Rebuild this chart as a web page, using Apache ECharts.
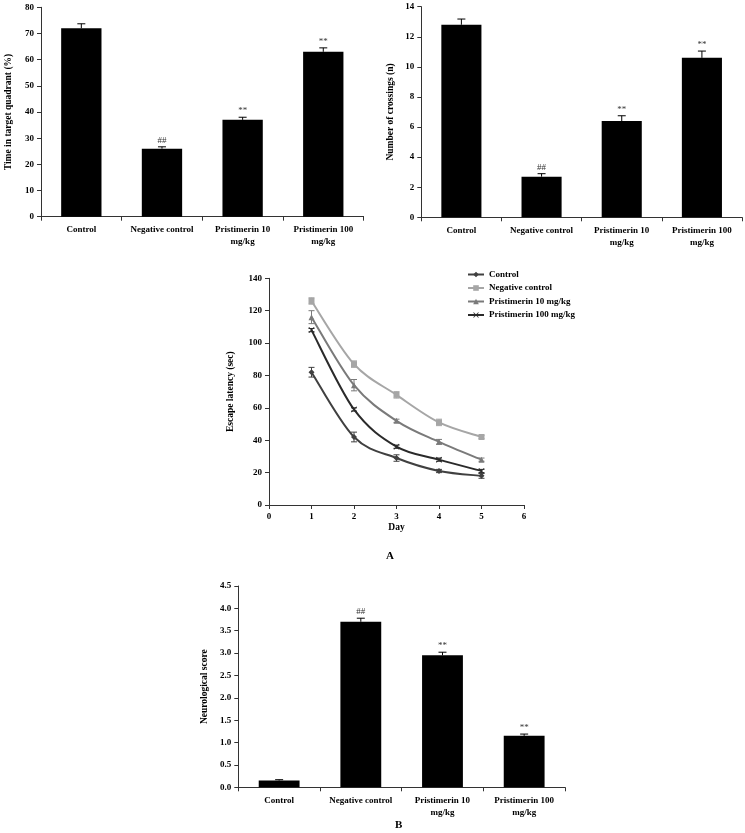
<!DOCTYPE html>
<html><head><meta charset="utf-8">
<script src="https://cdn.jsdelivr.net/npm/echarts@6/dist/echarts.min.js"></script>
<style>html,body{margin:0;padding:0;background:#fff}#c{width:745px;height:833px}</style>
</head><body><div id="c"></div>
<script>
const categories = ['Control', 'Negative control', 'Pristimerin 10\nmg/kg', 'Pristimerin 100\nmg/kg'];
const sigMarks = ['', '##', '**', '**'];
const timeVals = [72, 26, 37, 63];
const timeErr = [1.7, 0.7, 1.0, 1.5];
const crossVals = [12.8, 2.7, 6.4, 10.6];
const crossErr = [0.38, 0.2, 0.35, 0.45];
const neuroVals = [0.15, 3.7, 2.95, 1.15];
const neuroErr = [0.02, 0.08, 0.07, 0.04];
const days = [1, 2, 3, 4, 5];
const lineNames = ['Control', 'Negative control', 'Pristimerin 10 mg/kg', 'Pristimerin 100 mg/kg'];
const latControl = [82, 42, 29, 21, 18];
const latNegative = [126, 87, 68, 51, 42];
const latP10 = [116, 74, 52, 39, 28];
const latP100 = [108, 59, 36, 28, 21];
const errControl = [3, 3, 2, 1, 1.5];
const errNegative = [2, 2, 2, 2, 1];
const errP10 = [4, 3.5, 1, 1.5, 1];
const errP100 = [1, 1, 1, 1, 1];

const FONT = '"Liberation Serif", "Times New Roman", serif';
const lineColors = ['#404040', '#a6a6a6', '#7a7a7a', '#2a2a2a'];
const markers = ['diamond', 'rect', 'triangle', 'path://M0,1L1,0L5,4L9,0L10,1L6,5L10,9L9,10L5,6L1,10L0,9L4,5Z'];

const chart = echarts.init(document.getElementById('c'), null, {renderer: 'canvas'});

const txt = {fontFamily: FONT, fontWeight: 'bold', fontSize: 9, color: '#000'};
const axisLine = {show: true, lineStyle: {color: '#333', width: 1}};

function catAxis(gi) {
  return {type: 'category', gridIndex: gi, data: categories, boundaryGap: true,
    axisLine: axisLine, axisTick: {show: true, length: 4, lineStyle: {color: '#333'}},
    axisLabel: Object.assign({margin: 7, lineHeight: 12, interval: 0}, txt), splitLine: {show: false}};
}
function valAxis(gi, max, interval, name, gap, fmt) {
  return {type: 'value', gridIndex: gi, min: 0, max: max, interval: interval,
    name: name, nameLocation: 'middle', nameGap: gap, nameRotate: 90,
    nameTextStyle: Object.assign({}, txt, {fontSize: 9.5}),
    axisLine: axisLine, axisTick: {show: true, length: 4, lineStyle: {color: '#333'}},
    axisLabel: Object.assign({margin: 7, formatter: fmt}, txt), splitLine: {show: false}};
}
function errBarData(vals, errs) { return vals.map((v, i) => [i, v, errs[i], sigMarks[i]]); }
function barErrSeries(gi, vals, errs) {
  return {type: 'custom', xAxisIndex: gi, yAxisIndex: gi, z: 5, silent: true,
    data: errBarData(vals, errs),
    renderItem: function (params, api) {
      const x = api.value(0), y = api.value(1), e = api.value(2);
      const p0 = api.coord([x, y]);
      const p1 = api.coord([x, y + e]);
      const children = [
        {type: 'line', shape: {x1: p0[0], y1: p0[1], x2: p1[0], y2: p1[1]}, style: {stroke: '#000', lineWidth: 1}},
        {type: 'line', shape: {x1: p1[0] - 4, y1: p1[1], x2: p1[0] + 4, y2: p1[1]}, style: {stroke: '#000', lineWidth: 1}}
      ];
      const s = sigMarks[params.dataIndex];
      if (s) {
        children.push({type: 'text', style: {text: s, x: p1[0], y: p1[1] - 2, align: 'center', verticalAlign: 'bottom',
          font: 'normal 9px ' + FONT, fill: '#333'}});
      }
      return {type: 'group', children: children};
    }};
}
function barSeries(gi, vals) {
  return {type: 'bar', xAxisIndex: gi, yAxisIndex: gi, data: vals, barWidth: '50%', itemStyle: {color: '#000'}, z: 2};
}
function lineErrSeries(vals, errs, color) {
  return {type: 'custom', xAxisIndex: 2, yAxisIndex: 2, z: 4, silent: true,
    data: days.map((d, i) => [d, vals[i], errs[i]]),
    renderItem: function (params, api) {
      const x = api.value(0), y = api.value(1), e = api.value(2);
      const a = api.coord([x, y + e]), b = api.coord([x, y - e]);
      const st = {stroke: color, lineWidth: 1};
      return {type: 'group', children: [
        {type: 'line', shape: {x1: a[0], y1: a[1], x2: b[0], y2: b[1]}, style: st},
        {type: 'line', shape: {x1: a[0] - 3, y1: a[1], x2: a[0] + 3, y2: a[1]}, style: st},
        {type: 'line', shape: {x1: b[0] - 3, y1: b[1], x2: b[0] + 3, y2: b[1]}, style: st}
      ]};
    }};
}
// smooth curve (Catmull-Rom style) drawn segment by segment from the axis coordinates
function curveSeries(vals, color) {
  return {type: 'custom', xAxisIndex: 2, yAxisIndex: 2, z: 2, silent: true,
    data: days.map((d, i) => [d, vals[i]]),
    renderItem: function (params, api) {
      const i = params.dataIndex;
      if (i >= days.length - 1) return {type: 'group', children: []};
      const P = days.map((d, k) => api.coord([d, vals[k]]));
      const p0 = P[Math.max(i - 1, 0)], p1 = P[i], p2 = P[i + 1], p3 = P[Math.min(i + 2, P.length - 1)];
      const t = 1 / 6;
      const c1 = [p1[0] + (p2[0] - p0[0]) * t, p1[1] + (p2[1] - p0[1]) * t];
      const c2 = [p2[0] - (p3[0] - p1[0]) * t, p2[1] - (p3[1] - p1[1]) * t];
      return {type: 'bezierCurve', shape: {x1: p1[0], y1: p1[1], x2: p2[0], y2: p2[1],
        cpx1: c1[0], cpy1: c1[1], cpx2: c2[0], cpy2: c2[1]},
        style: {stroke: color, lineWidth: 2, fill: null}};
    }};
}
const latVals = [latControl, latNegative, latP10, latP100];
const latErrs = [errControl, errNegative, errP10, errP100];
const lineSeries = lineNames.map((n, k) => ({
  type: 'line', name: n, xAxisIndex: 2, yAxisIndex: 2, z: 3,
  data: days.map((d, i) => [d, latVals[k][i]]),
  symbol: markers[k], symbolSize: 6,
  lineStyle: {color: lineColors[k], width: 2, opacity: 0}, itemStyle: {color: lineColors[k]}
}));

const option = {
  animation: false,
  backgroundColor: '#fff',
  grid: [
    {left: 41, top: 7.3, width: 322.6, height: 209.4},
    {left: 421.3, top: 6.7, width: 320.7, height: 210.6},
    {left: 269, top: 278.3, width: 255, height: 226.7},
    {left: 238.3, top: 586, width: 326.7, height: 201.3}
  ],
  legend: {
    data: lineNames, orient: 'vertical', left: 467, top: 270, itemWidth: 16, itemHeight: 7, itemGap: 4.5,
    textStyle: Object.assign({}, txt, {fontSize: 9}), padding: 0,
    lineStyle: {width: 2, opacity: 1}
  },
  xAxis: [
    catAxis(0), catAxis(1),
    {type: 'value', gridIndex: 2, min: 0, max: 6, interval: 1, name: 'Day', nameLocation: 'middle', nameGap: 18,
      nameTextStyle: Object.assign({}, txt, {fontSize: 9.5}),
      axisLine: axisLine, axisTick: {show: true, length: 4, lineStyle: {color: '#333'}},
      axisLabel: Object.assign({margin: 7}, txt), splitLine: {show: false}},
    catAxis(3)
  ],
  yAxis: [
    valAxis(0, 80, 10, 'Time in target quadrant (%)', 27),
    valAxis(1, 14, 2, 'Number of crossings (n)', 26),
    valAxis(2, 140, 20, 'Escape latency (sec)', 33),
    valAxis(3, 4.5, 0.5, 'Neurological score', 29, v => v.toFixed(1))
  ],
  graphic: [
    {type: 'text', left: 386, top: 551, style: {text: 'A', font: 'bold 11px ' + FONT, fill: '#000'}},
    {type: 'text', left: 395, top: 820, style: {text: 'B', font: 'bold 11px ' + FONT, fill: '#000'}}
  ],
  series: [
    barSeries(0, timeVals), barErrSeries(0, timeVals, timeErr),
    barSeries(1, crossVals), barErrSeries(1, crossVals, crossErr),
    barSeries(3, neuroVals), barErrSeries(3, neuroVals, neuroErr)
  ].concat(lineSeries)
   .concat(latVals.map((v, k) => curveSeries(v, lineColors[k])))
   .concat(latVals.map((v, k) => lineErrSeries(v, latErrs[k], lineColors[k])))
};
chart.setOption(option);
</script></body></html>
